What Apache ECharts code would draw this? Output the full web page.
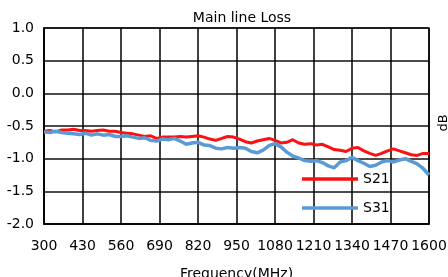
<!DOCTYPE html>
<html>
<head>
<meta charset="utf-8">
<script src="https://cdn.jsdelivr.net/npm/echarts@6/dist/echarts.min.js"></script>
<style>
  html, body { margin: 0; padding: 0; background: #fff; }
  #chart { width: 448px; height: 277px; }
</style>
</head>
<body>
<div id="chart"></div>
<script>
// frequency axis (MHz), sampled every 20 MHz
const freqs = [
  300, 320, 340, 360, 380, 400, 420, 440, 460, 480, 500, 520, 540, 560, 580, 600,
  620, 640, 660, 680, 700, 720, 740, 760, 780, 800, 820, 840, 860, 880, 900, 920,
  940, 960, 980, 1000, 1020, 1040, 1060, 1080, 1100, 1120, 1140, 1160, 1180, 1200,
  1220, 1240, 1260, 1280, 1300, 1320, 1340, 1360, 1380, 1400, 1420, 1440, 1460,
  1480, 1500, 1520, 1540, 1560, 1580, 1600
];
const s21 = [
  -0.58, -0.57, -0.59, -0.56, -0.56, -0.55, -0.57, -0.57, -0.58, -0.57, -0.56, -0.58, -0.58, -0.60, -0.61, -0.62,
  -0.64, -0.66, -0.65, -0.69, -0.67, -0.67, -0.67, -0.66, -0.67, -0.66, -0.65, -0.67, -0.70, -0.72, -0.69, -0.66,
  -0.67, -0.70, -0.74, -0.76, -0.73, -0.71, -0.69, -0.72, -0.76, -0.75, -0.71, -0.76, -0.78, -0.77,
  -0.79, -0.78, -0.82, -0.86, -0.87, -0.89, -0.84, -0.83, -0.88, -0.92, -0.95, -0.92, -0.88,
  -0.85, -0.88, -0.91, -0.94, -0.95, -0.92, -0.92
];
const s31 = [
  -0.59, -0.60, -0.58, -0.60, -0.61, -0.62, -0.63, -0.61, -0.64, -0.62, -0.64, -0.63, -0.66, -0.66, -0.65, -0.67,
  -0.69, -0.68, -0.72, -0.73, -0.70, -0.71, -0.69, -0.73, -0.78, -0.76, -0.75, -0.79, -0.80, -0.84, -0.85, -0.83,
  -0.84, -0.83, -0.84, -0.89, -0.91, -0.87, -0.80, -0.77, -0.82, -0.90, -0.96, -0.99, -1.03, -1.04,
  -1.03, -1.06, -1.11, -1.14, -1.05, -1.03, -0.98, -1.03, -1.07, -1.12, -1.10, -1.05, -1.03,
  -1.05, -1.02, -1.00, -1.04, -1.08, -1.15, -1.25
];
const seriesNames = ['S21', 'S31'];
const xStart = 300;
const xStep = 130;
const xEnd = 1600;

const font = 'DejaVu Sans';
const chart = echarts.init(document.getElementById('chart'));

// x values are shifted by xStart so the ticks line up at 300, 430, ... 1600
const pairs = (ys) => freqs.map((f, i) => [f - xStart, ys[i]]);

chart.setOption({
  animation: false,
  title: {
    text: 'Main line Loss',
    left: 237,
    textAlign: 'center',
    top: 6,
    textStyle: { fontFamily: font, fontSize: 14, fontWeight: 'normal', color: '#000' }
  },
  grid: {
    left: 44, right: 19, top: 28, bottom: 53,
    outerBoundsMode: 'none',
    show: true, borderColor: '#1a1a1a', borderWidth: 1.5
  },
  legend: {
    data: seriesNames.map((n) => ({ name: n, icon: 'rect' })),
    orient: 'vertical',
    left: 297,
    top: 167,
    itemWidth: 56,
    itemHeight: 3.5,
    itemGap: 15,
    textStyle: { fontFamily: font, fontSize: 14, color: '#000' }
  },
  xAxis: {
    type: 'value',
    min: 0,
    max: xEnd - xStart,
    interval: xStep,
    name: 'Frequency(MHz)',
    nameLocation: 'middle',
    nameGap: 43,
    nameTextStyle: { fontFamily: font, fontSize: 14, color: '#000' },
    axisLine: { show: true, onZero: false, lineStyle: { color: 'black', width: 1.5 } },
    axisTick: { show: false },
    axisLabel: {
      margin: 15,
      fontFamily: font, fontSize: 14, color: '#000',
      formatter: (v) => String(v + xStart)
    },
    splitLine: { show: true, lineStyle: { color: '#000', width: 1.5 } }
  },
  yAxis: {
    type: 'value',
    min: -2,
    max: 1,
    interval: 0.5,
    axisLine: { show: true, onZero: false, lineStyle: { color: 'black', width: 1.5 } },
    axisTick: { show: false },
    axisLabel: {
      margin: 10,
      fontFamily: font, fontSize: 14, color: '#000',
      formatter: (v) => v.toFixed(1)
    },
    splitLine: { show: true, lineStyle: { color: '#111', width: 1.5 } }
  },
  graphic: [{
    type: 'text',
    x: 444,
    y: 123,
    rotation: Math.PI / 2,
    style: {
      text: 'dB', fontFamily: font, fontSize: 13, fill: '#000',
      align: 'center', verticalAlign: 'middle'
    }
  }],
  series: [
    {
      name: 'S21',
      type: 'line',
      data: pairs(s21),
      symbol: 'none',
      color: '#ff1010',
      lineStyle: { width: 3, color: '#ff1010' },
      z: 2
    },
    {
      name: 'S31',
      type: 'line',
      data: pairs(s31),
      symbol: 'none',
      color: '#5b9bd5',
      lineStyle: { width: 3.5, color: '#5b9bd5' },
      z: 3
    }
  ]
});
</script>
</body>
</html>
